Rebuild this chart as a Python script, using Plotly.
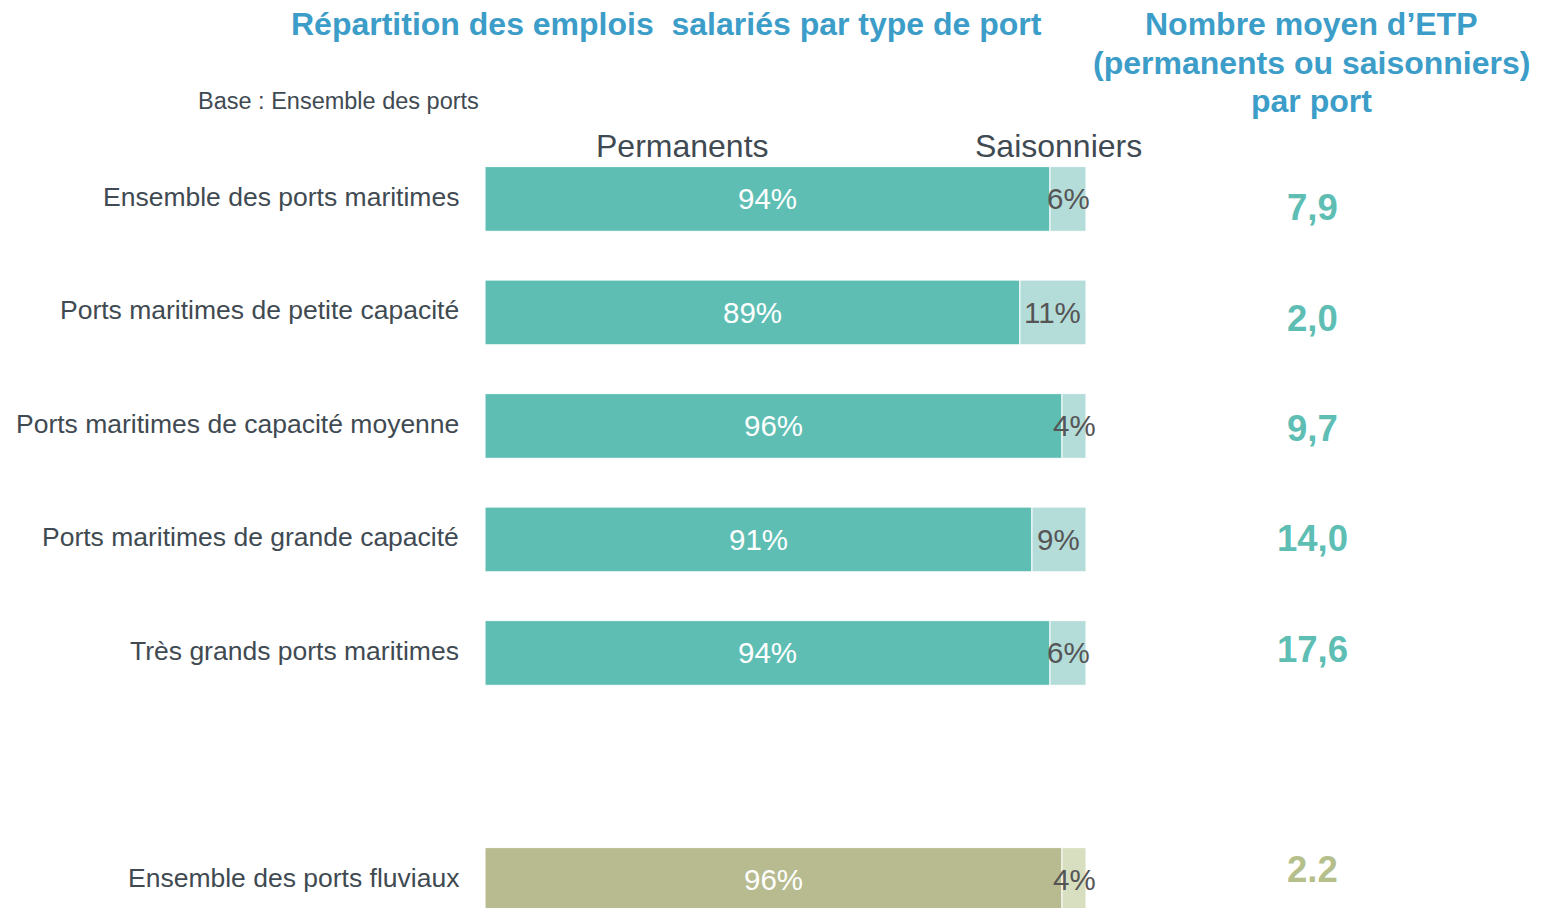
import plotly.graph_objects as go

# Port categories and their vertical slot (slot 5 is left empty as a spacer)
categories = [
    "Ensemble des ports maritimes",
    "Ports maritimes de petite capacité",
    "Ports maritimes de capacité moyenne",
    "Ports maritimes de grande capacité",
    "Très grands ports maritimes",
    "Ensemble des ports fluviaux",
]
slots = [0, 1, 2, 3, 4, 6]
permanents = [94, 89, 96, 91, 94, 96]
saisonniers = [6, 11, 4, 9, 6, 4]
etp_labels = ["7,9", "2,0", "9,7", "14,0", "17,6", "2.2"]
is_fluvial = [False, False, False, False, False, True]

TEAL = "#5ebeb4"
TEAL_LIGHT = "#b4dcd9"
OLIVE = "#b7bb8f"
OLIVE_LIGHT = "#d7dfc0"
BLUE = "#3b9dc8"
GREY = "#3f4a52"
FONT = "Liberation Sans, Arial, sans-serif"

perm_colors = [OLIVE if f else TEAL for f in is_fluvial]
seas_colors = [OLIVE_LIGHT if f else TEAL_LIGHT for f in is_fluvial]

fig = go.Figure()
fig.add_trace(go.Bar(
    y=slots, x=[p / 100 for p in permanents], orientation="h",
    marker=dict(color=perm_colors, line=dict(color="white", width=1)),
    width=0.57, hoverinfo="skip",
))
fig.add_trace(go.Bar(
    y=slots, x=[s / 100 for s in saisonniers], orientation="h",
    base=[p / 100 for p in permanents],
    marker=dict(color=seas_colors, line=dict(color="white", width=1)),
    width=0.57, hoverinfo="skip",
))

ann = []
for cat, pos, p, s, etp, fl in zip(categories, slots, permanents, saisonniers, etp_labels, is_fluvial):
    # category label
    ann.append(dict(x=-0.04, y=pos, xref="x", yref="y", text=cat, showarrow=False,
                    xanchor="right", yanchor="middle", yshift=2,
                    font=dict(family=FONT, size=26.5, color=GREY)))
    # permanent share
    ann.append(dict(x=p / 200, y=pos, xref="x", yref="y", text=f"{p}%", showarrow=False,
                    xanchor="center", yanchor="middle",
                    font=dict(family=FONT, size=29.5, color="white")))
    # seasonal share
    ann.append(dict(x=(p + s / 2) / 100, y=pos, xref="x", yref="y", text=f"{s}%", showarrow=False,
                    xanchor="center", yanchor="middle",
                    font=dict(family=FONT, size=29.5, color="#555555")))
    # average FTE per port
    ann.append(dict(x=1.376, y=pos, xref="x", yref="y", text=f"<b>{etp}</b>", showarrow=False,
                    xanchor="center", yanchor="middle", yshift=-(9 - 3.2 * pos),
                    font=dict(family=FONT, size=36.5, color="#b5bf8c" if fl else TEAL)))

# header annotations positioned in pixel-based paper coordinates
W, H = 1544, 908
def paper(px, py):
    return px / W, 1 - py / H

headers = [
    (666, 24, "<b>Répartition des emplois  salariés par type de port</b>", 32, BLUE),
    (1311, 24, "<b>Nombre moyen d’ETP</b>", 32, BLUE),
    (1311, 63, "<b>(permanents ou saisonniers)</b>", 32, BLUE),
    (1311, 101, "<b>par port</b>", 32, BLUE),
    (682, 146, "Permanents", 32, GREY),
    (1058, 146, "Saisonniers", 32, GREY),
    (338, 101, "Base : Ensemble des ports", 23.5, GREY),
]
for px, py, txt, size, col in headers:
    tx, ty = paper(px, py)
    ann.append(dict(x=tx, y=ty, xref="paper", yref="paper", text=txt, showarrow=False,
                    xanchor="center", yanchor="middle",
                    font=dict(family=FONT, size=size, color=col)))

fig.update_layout(
    width=W, height=H, barmode="overlay", showlegend=False,
    margin=dict(l=0, r=0, t=0, b=0),
    paper_bgcolor="white", plot_bgcolor="white",
    xaxis=dict(range=[-0.807, 1.762], visible=False, fixedrange=True),
    yaxis=dict(range=[6.247, -1.753], visible=False, fixedrange=True),
    annotations=ann,
)
fig.write_html("out.html")
